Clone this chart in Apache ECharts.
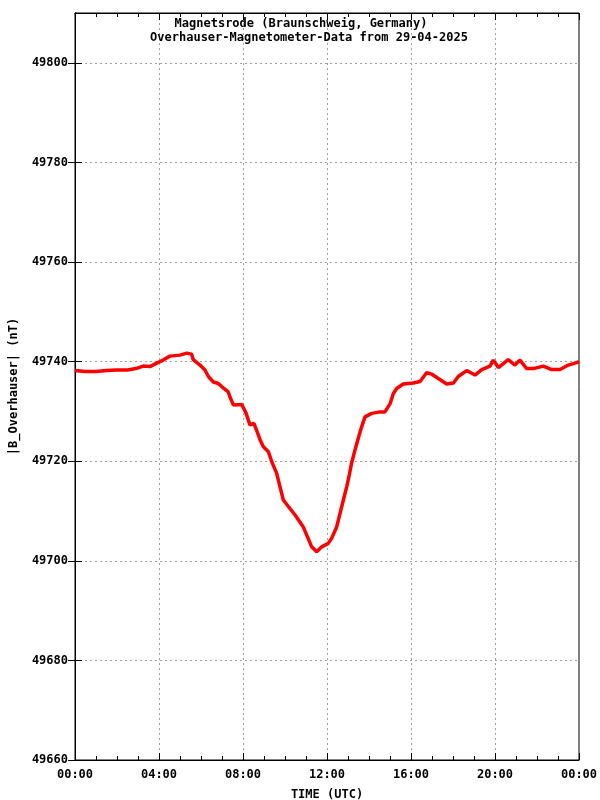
<!DOCTYPE html>
<html><head><meta charset="utf-8">
<script src="https://cdn.jsdelivr.net/npm/echarts@6/dist/echarts.min.js"></script>
<style>html,body{margin:0;padding:0;background:#fff;overflow:hidden}#c{width:600px;height:800px}</style>
</head><body><div id="c"></div>
<script>
const titleLine1 = "Magnetsrode (Braunschweig, Germany)";
const titleLine2 = "Overhauser-Magnetometer-Data from 29-04-2025";
const xAxisName = "TIME (UTC)";
const yAxisName = "|B_Overhauser| (nT)";
const xTicks = [0, 4, 8, 12, 16, 20, 24];
const yTicks = [49660, 49680, 49700, 49720, 49740, 49760, 49780, 49800];
// hours UTC
const hours = [0.0,0.5,1.0,1.5,2.0,2.5,2.9,3.25,3.57,3.89,4.2,4.52,5.0,5.32,5.55,5.63,5.95,6.19,6.35,6.59,6.83,7.06,7.3,7.38,7.54,7.94,8.14,8.33,8.52,8.73,8.81,8.97,9.21,9.37,9.6,9.76,9.92,10.16,10.48,10.71,10.87,11.03,11.27,11.51,11.75,12.06,12.22,12.46,12.62,12.78,12.94,13.06,13.17,13.33,13.49,13.65,13.81,14.13,14.52,14.76,15.0,15.16,15.32,15.63,16.11,16.43,16.75,16.98,17.3,17.7,18.02,18.25,18.65,19.05,19.37,19.76,19.92,20.16,20.63,20.95,21.19,21.51,21.83,22.3,22.7,23.1,23.49,23.89,24.0];
// |B| in nT
const field = [49738.2,49738.0,49738.0,49738.2,49738.3,49738.3,49738.6,49739.1,49739.0,49739.7,49740.3,49741.1,49741.3,49741.7,49741.5,49740.4,49739.3,49738.3,49737.0,49735.9,49735.6,49734.7,49733.9,49732.9,49731.3,49731.4,49729.7,49727.3,49727.6,49725.3,49724.3,49722.9,49721.9,49719.9,49717.6,49714.9,49712.2,49710.9,49709.2,49707.8,49706.8,49705.2,49702.8,49701.8,49702.8,49703.5,49704.5,49706.8,49709.5,49712.2,49714.9,49717.2,49719.6,49722.2,49724.6,49726.9,49728.9,49729.6,49729.9,49729.9,49731.5,49733.6,49734.6,49735.5,49735.7,49736.0,49737.8,49737.5,49736.6,49735.5,49735.7,49737.0,49738.2,49737.3,49738.4,49739.1,49740.3,49738.8,49740.4,49739.3,49740.3,49738.6,49738.6,49739.1,49738.4,49738.4,49739.3,49739.8,49740.0];

const font = '"DejaVu Sans Mono", monospace';
const data = hours.map((h, i) => [h, field[i]]);
const fmtHour = v => { const h = Math.round(v) % 24; return (h < 10 ? '0' : '') + h + ':00'; };

const chart = echarts.init(document.getElementById('c'), null, {renderer: 'canvas', width: 600, height: 800});
const gridStyle = {color: '#a0a0a0', type: [2, 3], width: 1};
const txt = {fontFamily: font, fontSize: 12, fontWeight: 'bold', color: '#000'};
chart.setOption({
  animation: false,
  backgroundColor: '#fff',
  title: [
    {text: titleLine1, left: 296, top: 13, textAlign: 'center', textStyle: txt},
    {text: titleLine2, left: 304, top: 27, textAlign: 'center', textStyle: txt}
  ],
  grid: {left: 75, right: 21, top: 13, bottom: 40, show: true, borderColor: '#000', borderWidth: 1,
         containLabel: false, outerBoundsMode: 'none'},
  xAxis: [
    {type: 'value', min: 0, max: 24, interval: 4, position: 'bottom',
     name: xAxisName, nameLocation: 'middle', nameGap: 29, nameTextStyle: txt,
     axisLine: {show: true, lineStyle: {color: '#000'}},
     axisTick: {show: true, inside: true, length: 7, lineStyle: {color: '#000'}},
     minorTick: {show: true, splitNumber: 4, length: 4, lineStyle: {color: '#000'}},
     axisLabel: Object.assign({margin: 9, formatter: fmtHour, customValues: xTicks}, txt),
     splitLine: {show: true, showMinLine: false, showMaxLine: false, lineStyle: gridStyle}},
    {type: 'value', min: 0, max: 24, interval: 4, position: 'top',
     axisLine: {show: true, lineStyle: {color: '#000'}},
     axisTick: {show: true, inside: true, length: 7, lineStyle: {color: '#000'}},
     minorTick: {show: true, splitNumber: 4, length: 4, lineStyle: {color: '#000'}},
     axisLabel: {show: false}, splitLine: {show: false}}
  ],
  yAxis: [
    {type: 'value', min: 49660, max: 49810, interval: 20, position: 'left',
     name: yAxisName, nameLocation: 'middle', nameGap: 55, nameRotate: 90, nameTextStyle: txt,
     axisLine: {show: true, lineStyle: {color: '#000'}},
     axisTick: {show: true, inside: true, length: 7, customValues: yTicks, lineStyle: {color: '#000'}},
     axisLabel: Object.assign({margin: 7, customValues: yTicks, formatter: v => String(v)}, txt),
     splitLine: {show: true, showMinLine: false, lineStyle: gridStyle}},
    {type: 'value', min: 49660, max: 49810, interval: 20, position: 'right',
     axisLine: {show: true, lineStyle: {color: '#000'}},
     axisTick: {show: true, inside: true, length: 7, customValues: yTicks, lineStyle: {color: '#000'}},
     axisLabel: {show: false}, splitLine: {show: false}}
  ],
  series: [{
    type: 'line', xAxisIndex: 0, yAxisIndex: 0, data: data,
    showSymbol: false, symbol: 'none',
    lineStyle: {color: '#ff0000', width: 3.5}
  }]
});
</script></body></html>
